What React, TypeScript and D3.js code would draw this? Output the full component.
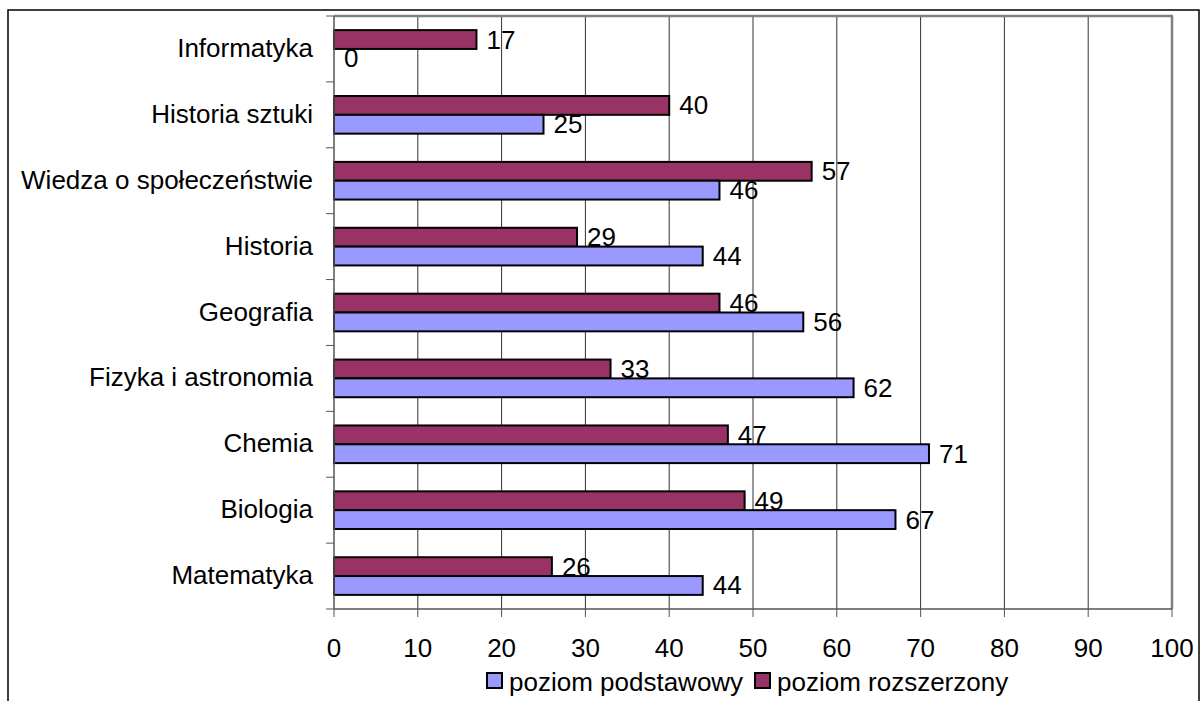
import { useRef, useEffect } from "react";
import * as d3 from "d3";

const categories = [
  "Matematyka",
  "Biologia",
  "Chemia",
  "Fizyka i astronomia",
  "Geografia",
  "Historia",
  "Wiedza o społeczeństwie",
  "Historia sztuki",
  "Informatyka",
];
const podstawowy = [44, 67, 71, 62, 56, 44, 46, 25, 0];
const rozszerzony = [26, 49, 47, 33, 46, 29, 57, 40, 17];
const xTicks = [0, 10, 20, 30, 40, 50, 60, 70, 80, 90, 100];
const seriesNames = ["poziom podstawowy", "poziom rozszerzony"];
const COLORS = ["#9999ff", "#993366"];

const FONT = "'Liberation Sans', Arial, sans-serif";
const FS = 26;

export default function App() {
  const ref = useRef<SVGSVGElement>(null);

  useEffect(() => {
    if (!ref.current) return;
    const W = 1200;
    const H = 701;
    const plot = { left: 334, right: 1172, top: 16, bottom: 609 };

    const svg = d3.select(ref.current);
    svg.selectAll("*").remove();

    // outer frame
    svg.append("rect").attr("x", 8).attr("y", 10).attr("width", 1191).attr("height", 720)
      .attr("fill", "#fff").attr("stroke", "#000").attr("stroke-width", 1.5);

    const x = d3.scaleLinear().domain([0, 100]).range([plot.left, plot.right]);
    // top category first in band order
    const y = d3.scaleBand<string>().domain([...categories].reverse()).range([plot.top, plot.bottom]);
    const bw = y.bandwidth();
    const barH = bw / 3.5;
    const gap = bw * 0.75 / 3.5;

    const g = svg.append("g");

    // gridlines
    xTicks.filter((t) => t > 0 && t < 100).forEach((t) => {
      g.append("line").attr("x1", x(t)).attr("x2", x(t)).attr("y1", plot.top).attr("y2", plot.bottom)
        .attr("stroke", "#333").attr("stroke-width", 1);
    });

    // plot border (top/right gray)
    g.append("line").attr("x1", plot.left).attr("x2", plot.right + 1).attr("y1", plot.top).attr("y2", plot.top)
      .attr("stroke", "#808080").attr("stroke-width", 2.5);
    g.append("line").attr("x1", plot.right).attr("x2", plot.right).attr("y1", plot.top).attr("y2", plot.bottom)
      .attr("stroke", "#808080").attr("stroke-width", 2.5);

    // bars
    categories.forEach((c, i) => {
      const y0 = (y(c) ?? 0) + gap;
      const vals = [rozszerzony[i], podstawowy[i]];
      const cols = [COLORS[1], COLORS[0]];
      vals.forEach((v, k) => {
        const by = y0 + k * barH;
        if (v > 0) {
          g.append("rect").attr("x", x(0)).attr("y", by).attr("width", x(v) - x(0)).attr("height", barH)
            .attr("fill", cols[k]).attr("stroke", "#000").attr("stroke-width", 2);
        }
        g.append("text").attr("x", x(v) + 10).attr("y", by + barH / 2 + 9)
          .attr("font-family", FONT).attr("font-size", FS).attr("fill", "#000")
          .text(v);
      });
    });

    // axes lines
    g.append("line").attr("x1", plot.left).attr("x2", plot.left).attr("y1", plot.top).attr("y2", plot.bottom)
      .attr("stroke", "#555").attr("stroke-width", 1.5);
    g.append("line").attr("x1", plot.left).attr("x2", plot.right).attr("y1", plot.bottom).attr("y2", plot.bottom)
      .attr("stroke", "#555").attr("stroke-width", 1.5);

    // category ticks
    const bounds = [...y.domain().map((c) => y(c) ?? 0), plot.bottom];
    bounds.forEach((b) => {
      g.append("line").attr("x1", plot.left - 8).attr("x2", plot.left).attr("y1", b).attr("y2", b)
        .attr("stroke", "#555").attr("stroke-width", 1);
    });
    // value ticks
    xTicks.forEach((t) => {
      g.append("line").attr("x1", x(t)).attr("x2", x(t)).attr("y1", plot.bottom).attr("y2", plot.bottom + 8)
        .attr("stroke", "#555").attr("stroke-width", 1);
      g.append("text").attr("x", x(t)).attr("y", 657).attr("text-anchor", "middle")
        .attr("font-family", FONT).attr("font-size", FS).attr("fill", "#000").text(t);
    });

    // category labels
    categories.forEach((c) => {
      g.append("text").attr("x", 313).attr("y", (y(c) ?? 0) + bw / 2 + 8).attr("text-anchor", "end")
        .attr("font-family", FONT).attr("font-size", FS).attr("fill", "#000").text(c);
    });

    // legend
    const legendX = [487, 755];
    seriesNames.forEach((s, k) => {
      g.append("rect").attr("x", legendX[k]).attr("y", 673).attr("width", 15).attr("height", 15)
        .attr("fill", COLORS[k]).attr("stroke", "#000").attr("stroke-width", 2);
      g.append("text").attr("x", legendX[k] + 22).attr("y", 691)
        .attr("font-family", FONT).attr("font-size", FS).attr("fill", "#000").text(s);
    });

    svg.attr("width", W).attr("height", H);
  }, []);

  return (
    <svg
      ref={ref}
      width={1200}
      height={701}
      style={{ position: "absolute", left: 0, top: 0, display: "block", background: "#fff" }}
    />
  );
}
